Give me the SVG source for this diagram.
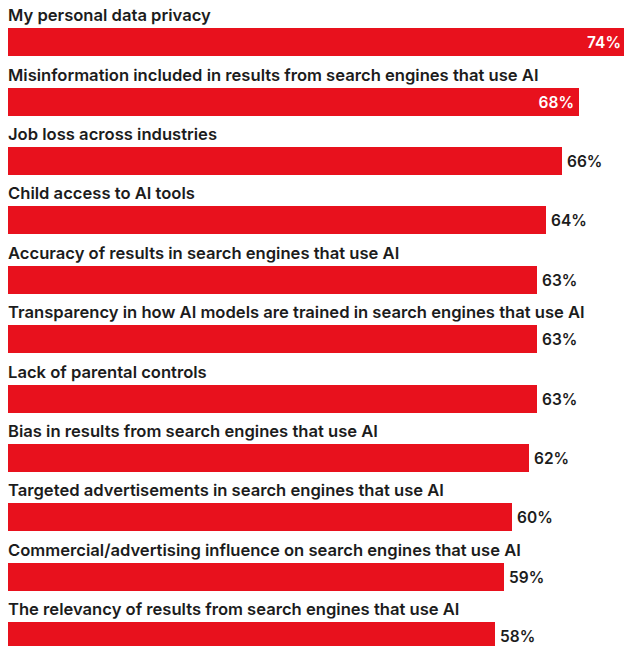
<svg xmlns="http://www.w3.org/2000/svg" width="626" height="646" viewBox="0 0 626 646">
<style>
.bar{fill:#e8111d}
.lab{font-family:Inter,"Liberation Sans",sans-serif;font-weight:600;font-size:16.6px;fill:#1c1c1c}
.val{font-family:Inter,"Liberation Sans",sans-serif;font-weight:600;font-size:15.5px;fill:#1c1c1c}
.vin{fill:#ffffff;text-anchor:end}
</style>
<rect width="626" height="646" fill="#ffffff"/>
<g id="row1"><text class="lab" x="8" y="21">My personal data privacy</text><rect class="bar" x="8" y="28" width="616" height="28"/><text class="val vin" x="621" y="48">74%</text></g>
<g id="row2"><text class="lab" x="8" y="81">Misinformation included in results from search engines that use AI</text><rect class="bar" x="8" y="88" width="571" height="28"/><text class="val vin" x="574" y="108">68%</text></g>
<g id="row3"><text class="lab" x="8" y="140">Job loss across industries</text><rect class="bar" x="8" y="147" width="554" height="28"/><text class="val" x="567" y="167">66%</text></g>
<g id="row4"><text class="lab" x="8" y="199">Child access to AI tools</text><rect class="bar" x="8" y="206" width="538" height="28"/><text class="val" x="551" y="226">64%</text></g>
<g id="row5"><text class="lab" x="8" y="259">Accuracy of results in search engines that use AI</text><rect class="bar" x="8" y="266" width="529" height="28"/><text class="val" x="542" y="286">63%</text></g>
<g id="row6"><text class="lab" x="8" y="318">Transparency in how AI models are trained in search engines that use AI</text><rect class="bar" x="8" y="325" width="529" height="28"/><text class="val" x="542" y="345">63%</text></g>
<g id="row7"><text class="lab" x="8" y="378">Lack of parental controls</text><rect class="bar" x="8" y="385" width="529" height="28"/><text class="val" x="542" y="405">63%</text></g>
<g id="row8"><text class="lab" x="8" y="437">Bias in results from search engines that use AI</text><rect class="bar" x="8" y="444" width="521" height="28"/><text class="val" x="534" y="464">62%</text></g>
<g id="row9"><text class="lab" x="8" y="496">Targeted advertisements in search engines that use AI</text><rect class="bar" x="8" y="503" width="504" height="28"/><text class="val" x="517" y="523">60%</text></g>
<g id="row10"><text class="lab" x="8" y="556">Commercial/advertising influence on search engines that use AI</text><rect class="bar" x="8" y="563" width="496" height="28"/><text class="val" x="509" y="583">59%</text></g>
<g id="row11"><text class="lab" x="8" y="615">The relevancy of results from search engines that use AI</text><rect class="bar" x="8" y="622" width="487" height="28"/><text class="val" x="500" y="642">58%</text></g>
</svg>
